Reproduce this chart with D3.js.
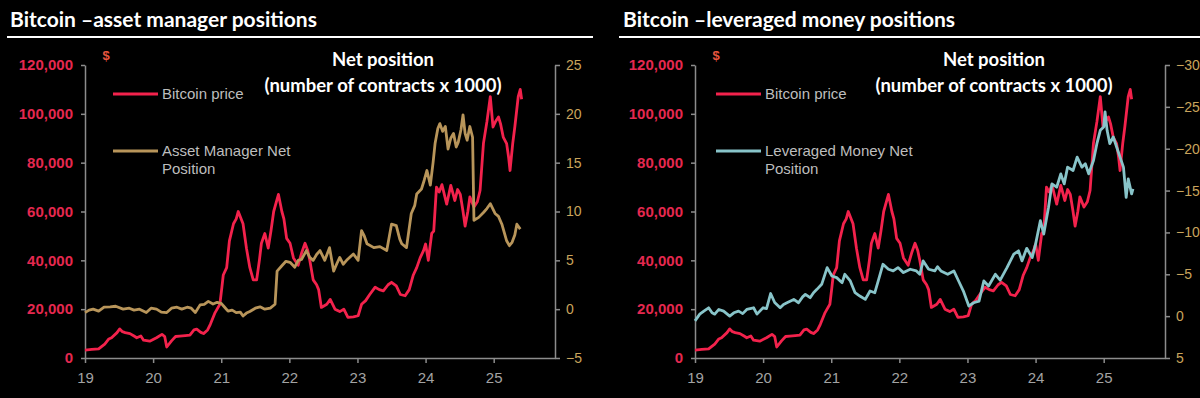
<!DOCTYPE html>
<html>
<head>
<meta charset="utf-8">
<script src="https://cdn.jsdelivr.net/npm/d3@7"></script>
<style>
  html, body { margin: 0; padding: 0; background: #000; }
  svg { display: block; }
</style>
</head>
<body>
<div id="chart-area"></div>
<script>
// Bitcoin price (USD), [decimal year, value]
var btcPrice = [
  [2019.00,3200],[2019.10,3500],[2019.20,3700],[2019.29,5700],[2019.35,7800],[2019.39,8300],[2019.47,10400],[2019.51,11900],
  [2019.55,10800],[2019.59,10400],[2019.66,10000],[2019.72,9000],[2019.76,8300],[2019.82,9000],[2019.86,7300],[2019.95,6900],
  [2020.05,8300],[2020.13,9700],[2020.17,8800],[2020.20,4500],[2020.27,7000],[2020.33,8800],[2020.39,9000],[2020.47,9200],
  [2020.54,9400],[2020.60,11500],[2020.64,11800],[2020.70,10500],[2020.74,10000],[2020.80,11500],[2020.84,13800],[2020.91,18600],
  [2020.98,22000],[2021.01,29000],[2021.03,34000],[2021.08,37000],[2021.12,48000],[2021.18,55000],[2021.22,57000],[2021.25,60000],
  [2021.32,55000],[2021.37,45000],[2021.42,37000],[2021.47,32000],[2021.52,32000],[2021.56,40000],[2021.59,47000],[2021.64,51000],
  [2021.69,45000],[2021.73,52000],[2021.77,60000],[2021.84,67000],[2021.89,60000],[2021.92,57000],[2021.96,49000],[2022.01,47000],
  [2022.06,41000],[2022.13,38000],[2022.18,43000],[2022.23,47000],[2022.27,44000],[2022.30,40000],[2022.35,32000],[2022.40,30000],
  [2022.43,28000],[2022.47,20700],[2022.55,22000],[2022.60,24000],[2022.67,20000],[2022.74,19000],[2022.80,20000],[2022.86,16600],
  [2022.94,16800],[2023.01,17300],[2023.06,22000],[2023.12,23500],[2023.18,26000],[2023.26,29000],[2023.32,28000],[2023.38,27500],
  [2023.45,30000],[2023.50,31000],[2023.57,29500],[2023.63,26000],[2023.70,25500],[2023.76,28000],[2023.82,34000],[2023.87,37000],
  [2023.92,41000],[2023.97,44000],[2024.00,46700],[2024.04,40000],[2024.09,51000],[2024.12,52000],[2024.16,70000],[2024.20,68000],
  [2024.24,71000],[2024.31,63000],[2024.37,70700],[2024.43,64500],[2024.47,69000],[2024.51,67000],[2024.55,60000],[2024.58,54000],
  [2024.62,60000],[2024.65,66000],[2024.71,61800],[2024.76,64000],[2024.80,68600],[2024.85,88000],[2024.90,96700],[2024.95,107000],
  [2024.99,94600],[2025.03,97000],[2025.07,98700],[2025.10,96000],[2025.14,90500],[2025.19,87800],[2025.22,82000],[2025.24,76800],
  [2025.28,88000],[2025.31,94600],[2025.36,107000],[2025.39,110000],[2025.41,106000]
];

// Asset manager net position (contracts x 1000)
var assetMgrNet = [
  [2019.00,-0.35],[2019.06,-0.1],[2019.12,0.0],[2019.20,-0.2],[2019.28,0.2],[2019.37,0.24],[2019.45,0.3],[2019.56,0.0],
  [2019.65,0.1],[2019.72,-0.1],[2019.80,0.0],[2019.90,-0.35],[2019.97,0.1],[2020.05,0.0],[2020.12,-0.3],[2020.20,-0.35],
  [2020.27,0.1],[2020.35,0.2],[2020.42,0.0],[2020.50,0.2],[2020.56,0.1],[2020.62,-0.35],[2020.69,0.44],[2020.75,0.5],
  [2020.81,0.8],[2020.88,0.52],[2020.94,0.7],[2021.00,0.6],[2021.05,0.2],[2021.10,-0.2],[2021.16,-0.1],[2021.22,-0.35],
  [2021.28,-0.3],[2021.32,-0.7],[2021.37,-0.4],[2021.42,-0.24],[2021.50,0.1],[2021.57,0.24],[2021.64,0.0],[2021.72,0.1],
  [2021.79,0.5],[2021.82,3.9],[2021.89,4.45],[2021.95,4.9],[2022.01,4.8],[2022.08,4.3],[2022.13,5.0],[2022.18,5.1],
  [2022.25,6.0],[2022.30,5.3],[2022.35,5.0],[2022.40,5.6],[2022.45,6.0],[2022.52,5.0],[2022.59,6.3],[2022.65,3.9],
  [2022.70,4.7],[2022.74,5.3],[2022.79,4.6],[2022.84,5.0],[2022.94,5.65],[2023.01,5.0],[2023.06,8.05],[2023.10,7.5],
  [2023.14,6.7],[2023.24,6.3],[2023.33,6.4],[2023.43,6.0],[2023.50,8.7],[2023.57,8.55],[2023.62,7.2],[2023.65,6.7],
  [2023.72,6.3],[2023.79,9.8],[2023.84,10.6],[2023.87,11.8],[2023.94,12.3],[2023.98,13.2],[2024.02,14.2],[2024.07,12.7],
  [2024.11,15.0],[2024.14,17.0],[2024.18,18.5],[2024.21,19.0],[2024.25,18.2],[2024.29,18.7],[2024.33,16.4],[2024.37,17.5],
  [2024.41,18.0],[2024.45,16.6],[2024.48,17.1],[2024.52,18.4],[2024.55,19.9],[2024.58,18.0],[2024.61,17.3],[2024.65,18.7],
  [2024.69,17.6],[2024.71,9.1],[2024.78,9.4],[2024.85,9.9],[2024.90,10.3],[2024.95,10.8],[2025.02,9.8],[2025.07,9.5],
  [2025.12,8.7],[2025.19,7.0],[2025.23,6.5],[2025.27,6.85],[2025.31,7.6],[2025.34,8.7],[2025.39,8.2]
];

// Leveraged money net position (contracts x 1000)
var levMoneyNet = [
  [2019.00,0.56],[2019.07,-0.24],[2019.13,-0.6],[2019.20,-1.0],[2019.25,-0.4],[2019.29,-0.24],[2019.35,-0.8],[2019.42,-0.6],
  [2019.51,0.0],[2019.57,-0.4],[2019.64,-0.6],[2019.70,-0.3],[2019.76,-0.8],[2019.86,-1.0],[2019.91,-0.24],[2020.00,-1.0],
  [2020.05,-0.9],[2020.11,-2.7],[2020.17,-1.63],[2020.25,-1.0],[2020.30,-1.4],[2020.35,-1.6],[2020.45,-2.0],[2020.52,-1.6],
  [2020.58,-2.3],[2020.62,-2.6],[2020.69,-2.2],[2020.74,-2.8],[2020.79,-3.2],[2020.86,-3.8],[2020.94,-5.8],[2021.01,-4.8],
  [2021.08,-4.6],[2021.16,-4.0],[2021.20,-5.0],[2021.28,-4.2],[2021.35,-2.8],[2021.42,-2.4],[2021.50,-2.0],[2021.57,-3.0],
  [2021.64,-2.8],[2021.69,-4.2],[2021.76,-6.2],[2021.84,-5.6],[2021.91,-5.4],[2021.98,-5.8],[2022.06,-5.2],[2022.16,-5.6],
  [2022.25,-5.4],[2022.30,-5.0],[2022.35,-6.6],[2022.43,-5.6],[2022.52,-5.4],[2022.56,-5.9],[2022.61,-5.4],[2022.71,-5.0],
  [2022.80,-5.4],[2022.87,-4.2],[2022.94,-3.0],[2023.02,-1.2],[2023.09,-1.6],[2023.17,-1.8],[2023.24,-4.2],[2023.31,-3.6],
  [2023.41,-5.0],[2023.48,-4.3],[2023.58,-5.8],[2023.68,-7.4],[2023.75,-7.8],[2023.80,-6.6],[2023.87,-8.1],[2023.95,-7.0],
  [2024.00,-8.6],[2024.07,-11.4],[2024.12,-9.8],[2024.19,-13.0],[2024.24,-15.8],[2024.31,-15.4],[2024.37,-17.0],[2024.42,-15.8],
  [2024.47,-17.8],[2024.55,-17.4],[2024.61,-19.0],[2024.68,-17.8],[2024.73,-18.2],[2024.78,-17.0],[2024.85,-18.6],[2024.90,-20.6],
  [2024.95,-22.2],[2025.00,-22.6],[2025.02,-24.4],[2025.05,-22.2],[2025.09,-20.6],[2025.14,-21.4],[2025.19,-20.2],[2025.24,-19.0],
  [2025.29,-17.8],[2025.33,-14.2],[2025.36,-16.4],[2025.41,-14.6],[2025.43,-15.2]
];

var yearTicks = [2019, 2020, 2021, 2022, 2023, 2024, 2025];
var priceTicks = [0, 20000, 40000, 60000, 80000, 100000, 120000];
var assetTicks = [-5, 0, 5, 10, 15, 20, 25];
var levTicks = [5, 0, -5, -10, -15, -20, -25, -30];

var RED = "#f3224c", TAN = "#b8955a", TEAL = "#88c4c9";

var svg = d3.select("#chart-area")
  .append("svg")
    .attr("width", 1200)
    .attr("height", 398)
    .style("background", "#000");

var plotTop = 65, plotBottom = 358;

function drawPanel(p) {
  var g = svg.append("g");

  // title + rule
  g.append("text")
    .attr("x", p.titleX).attr("y", 27)
    .attr("font-family", "Lato, 'Open Sans', sans-serif")
    .attr("font-weight", "bold")
    .attr("font-size", "21px")
    .attr("fill", "#fff")
    .text(p.title);
  g.append("line")
    .attr("x1", p.ruleX[0]).attr("x2", p.ruleX[1])
    .attr("y1", 37).attr("y2", 37)
    .attr("stroke", "#fff").attr("stroke-width", 2);

  var x = d3.scaleLinear().domain([2019, 2025.9]).range([p.left, p.right]);
  var yL = d3.scaleLinear().domain([0, 120000]).range([plotBottom, plotTop]);
  var yR = d3.scaleLinear().domain(p.rDomain).range([plotBottom, plotTop]);

  // axes
  var xAxis = g.append("g")
    .attr("transform", "translate(0," + plotBottom + ")")
    .call(d3.axisBottom(x).tickValues(yearTicks).tickSize(5).tickSizeOuter(0).tickPadding(9)
      .tickFormat(function(d){ return String(d).slice(2); }));
  xAxis.selectAll("text").attr("fill", "#a3a3a3").attr("font-size", "15px");

  var leftAxis = g.append("g")
    .attr("transform", "translate(" + p.left + ",0)")
    .call(d3.axisLeft(yL).tickValues(priceTicks).tickSize(4).tickSizeOuter(0).tickPadding(8)
      .tickFormat(d3.format(",")));
  leftAxis.selectAll("text").attr("fill", "#e5284f").attr("font-size", "15px").attr("font-weight", "bold");

  var rightAxis = g.append("g")
    .attr("transform", "translate(" + p.right + ",0)")
    .call(d3.axisRight(yR).tickValues(p.rTicks).tickSize(5).tickSizeOuter(0).tickPadding(6));
  rightAxis.selectAll("text").attr("fill", "#c9a45c").attr("font-size", "14px");

  [xAxis, leftAxis, rightAxis].forEach(function(a) {
    a.attr("font-family", "'Liberation Sans', Arial, sans-serif");
    a.selectAll("path, line").attr("stroke", "#8c8c8c").attr("stroke-width", 1.5);
  });

  // lines
  var priceLine = d3.line()
    .x(function(d){ return x(d[0]); })
    .y(function(d){ return yL(d[1]); });
  var netLine = d3.line()
    .x(function(d){ return x(d[0]); })
    .y(function(d){ return yR(d[1]); });

  g.append("path").datum(btcPrice)
    .attr("d", priceLine)
    .attr("fill", "none").attr("stroke", RED).attr("stroke-width", 2.8).attr("stroke-linejoin", "round");
  g.append("path").datum(p.net)
    .attr("d", netLine)
    .attr("fill", "none").attr("stroke", p.color).attr("stroke-width", 2.8).attr("stroke-linejoin", "round");

  // "$" unit
  g.append("text")
    .attr("x", p.left + 21).attr("y", 60)
    .attr("text-anchor", "middle")
    .attr("font-family", "'Liberation Sans', Arial, sans-serif")
    .attr("font-weight", "bold").attr("font-size", "13px")
    .attr("fill", "#e8553f")
    .text("$");

  // net position header
  var hdr = g.append("text")
    .attr("text-anchor", "middle")
    .attr("font-family", "Lato, 'Open Sans', sans-serif")
    .attr("font-weight", "bold").attr("font-size", "18.5px")
    .attr("fill", "#fff");
  hdr.append("tspan").attr("x", p.hdrX).attr("y", 66).text("Net position");
  hdr.append("tspan").attr("x", p.hdrX).attr("y", 92).text("(number of contracts x 1000)");

  // legend
  var lg = g.append("g")
    .attr("font-family", "'Liberation Sans', Arial, sans-serif")
    .attr("font-size", "15px").attr("fill", "#bdbdbd");
  lg.append("line")
    .attr("x1", p.legX).attr("x2", p.legX + 45).attr("y1", 94).attr("y2", 94)
    .attr("stroke", RED).attr("stroke-width", 3);
  lg.append("text").attr("x", p.legX + 49).attr("y", 99).text("Bitcoin price");
  lg.append("line")
    .attr("x1", p.legX).attr("x2", p.legX + 45).attr("y1", 151).attr("y2", 151)
    .attr("stroke", p.color).attr("stroke-width", 3);
  var t2 = lg.append("text");
  t2.append("tspan").attr("x", p.legX + 49).attr("y", 156).text(p.legend[0]);
  t2.append("tspan").attr("x", p.legX + 49).attr("y", 174).text(p.legend[1]);
}

drawPanel({
  title: "Bitcoin \u2013asset manager positions",
  titleX: 10, ruleX: [7, 593],
  left: 85, right: 555,
  rDomain: [-5, 25], rTicks: assetTicks,
  net: assetMgrNet, color: TAN,
  hdrX: 383, legX: 113,
  legend: ["Asset Manager Net", "Position"]
});

drawPanel({
  title: "Bitcoin \u2013leveraged money positions",
  titleX: 623, ruleX: [619, 1200],
  left: 695, right: 1165,
  rDomain: [5, -30], rTicks: levTicks,
  net: levMoneyNet, color: TEAL,
  hdrX: 994, legX: 716,
  legend: ["Leveraged Money Net", "Position"]
});
</script>
</body>
</html>
